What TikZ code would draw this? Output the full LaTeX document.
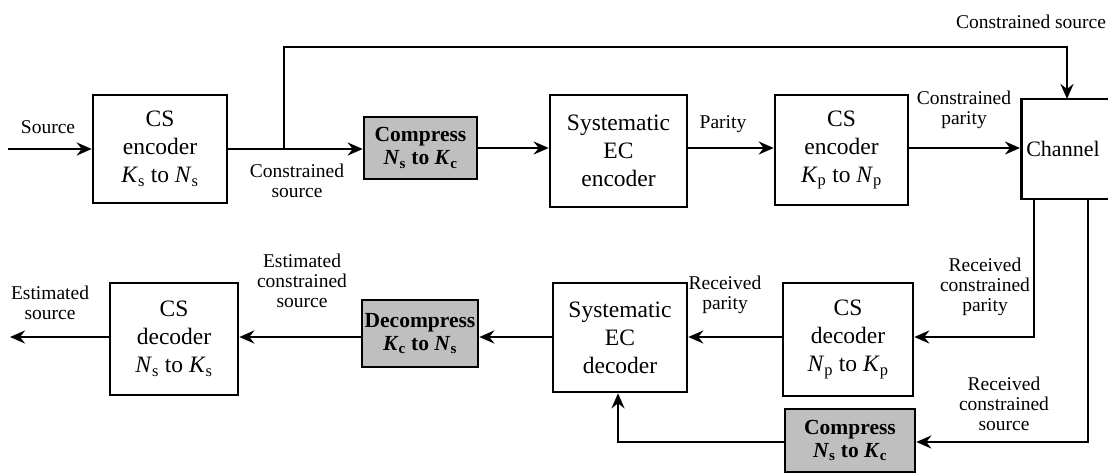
\documentclass[tikz,border=0pt]{standalone}
\usepackage{fontspec}
\setmainfont{Liberation Serif}
\usetikzlibrary{arrows.meta}
\newcommand{\vsub}[2]{\textit{#1}\textsubscript{#2}}
\begin{document}
\begin{tikzpicture}[x=1pt,y=-1pt,
  line width=2.5pt,
  arr/.style={-{Stealth[length=15pt,width=13pt,inset=5pt]}},
  blk/.style={draw,line width=2.6pt,inner sep=0pt,align=center,font=\fontsize{23.5}{28}\selectfont},
  cmp/.style={blk,fill=gray!50,font=\fontsize{21.5}{23}\selectfont\bfseries},
  lbl/.style={align=center,inner sep=0pt,font=\fontsize{19.5}{20}\selectfont}]
\useasboundingbox (0,0) rectangle (1108,474);
% top row
\node[blk,minimum width=134pt,minimum height=108pt] (csenc) at (160,149) {CS\\encoder\\\vsub{K}{s} to \vsub{N}{s}};
\node[cmp,minimum width=113pt,minimum height=62pt] (comp1) at (420.5,148) {Compress\\\vsub{N}{s} to \vsub{K}{c}};
\node[blk,minimum width=137pt,minimum height=112pt] (ecenc) at (618.5,151) {Systematic\\EC\\encoder};
\node[blk,minimum width=133pt,minimum height=110pt] (csenc2) at (841.5,150) {CS\\encoder\\\vsub{K}{p} to \vsub{N}{p}};
\node[blk,minimum width=95pt,minimum height=100pt,anchor=west,font=\fontsize{22}{26}\selectfont,text width=85pt,align=left] (chan) at (1020,149) {Channel};
% bottom row
\node[blk,minimum width=128pt,minimum height=112pt] (csdec1) at (174,339) {CS\\decoder\\\vsub{N}{s} to \vsub{K}{s}};
\node[cmp,minimum width=116pt,minimum height=67pt] (decomp) at (420,333.5) {Decompress\\\vsub{K}{c} to \vsub{N}{s}};
\node[blk,minimum width=134pt,minimum height=109pt] (ecdec) at (620,337.5) {Systematic\\EC\\decoder};
\node[blk,minimum width=130pt,minimum height=113pt] (csdec2) at (848,339.5) {CS\\decoder\\\vsub{N}{p} to \vsub{K}{p}};
\node[cmp,minimum width=130pt,minimum height=63pt] (comp2) at (850,440.5) {Compress\\\vsub{N}{s} to \vsub{K}{c}};
% coordinates
\coordinate (src) at (8,149);
\coordinate (b1) at (284,149);
\coordinate (out) at (10,337);
% connectors
\draw[arr] (src) -- (csenc.west);
\draw[arr] (csenc.east) -- (comp1.west |- csenc.east);
\draw[arr] (b1) -- (284,47) -- (1067,47) -- (1067,99);
\draw[arr] (comp1.east) -- (ecenc.west |- comp1.east);
\draw[arr] (ecenc.east |- 0,148) -- (csenc2.west |- 0,148);
\draw[arr] (csenc2.east |- 0,148) -- (chan.west |- 0,148);
\draw[arr] (1034,199) -- (1034,337) -- (csdec2.east |- 0,337);
\draw[arr] (1088,199) -- (1088,442) -- (comp2.east |- 0,442);
\draw[arr] (csdec2.west |- 0,337) -- (ecdec.east |- 0,337);
\draw[arr] (comp2.west |- 0,442) -- (618,442) -- (ecdec.south -| 618,0);
\draw[arr] (ecdec.west |- 0,337) -- (decomp.east |- 0,337);
\draw[arr] (decomp.west |- 0,337) -- (csdec1.east |- 0,337);
\draw[arr] (csdec1.west |- 0,337) -- (out);
% labels
\node[lbl] (l1) at (48,127) {Source};
\node[lbl] (l2) at (297,181) {Constrained\\source};
\node[lbl] (l3) at (1031,22) {Constrained source};
\node[lbl] (l4) at (723,124) {Parity};
\node[lbl] (l5) at (964,110) {Constrained\\parity};
\node[lbl] (l6) at (985,287) {Received\\constrained\\parity};
\node[lbl] (l7) at (1004,404) {Received\\constrained\\source};
\node[lbl] (l8) at (725,295) {Received\\parity};
\node[lbl] (l9) at (302,281) {Estimated\\constrained\\source};
\node[lbl] (l10) at (50,303) {Estimated\\source};
\end{tikzpicture}
\end{document}
